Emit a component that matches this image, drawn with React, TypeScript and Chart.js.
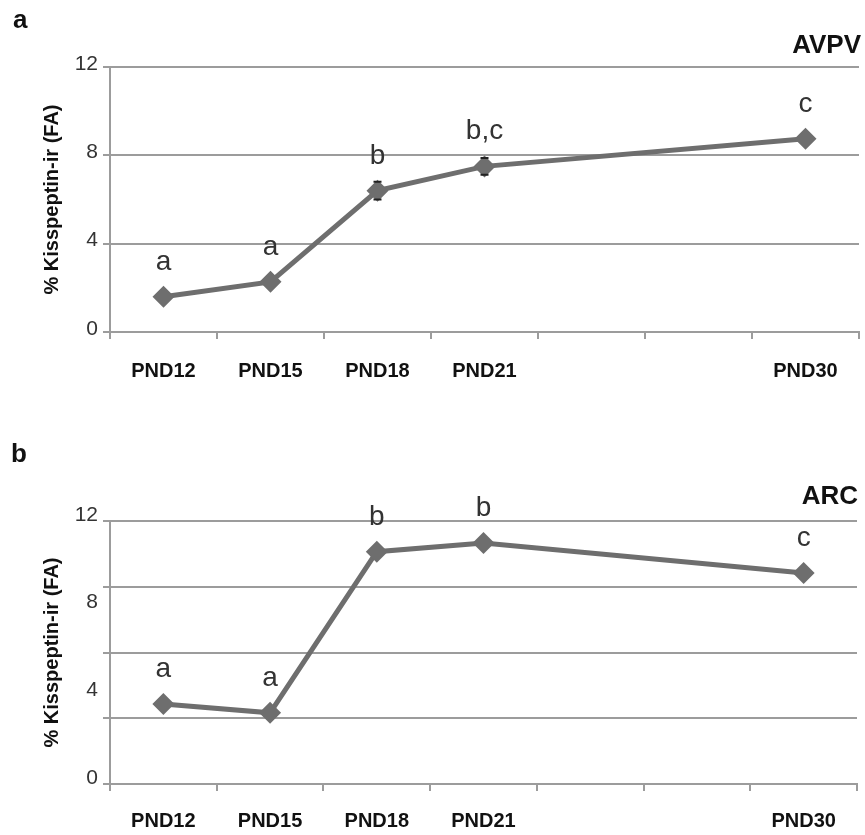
import React, { useEffect, useRef } from "react";
import { Chart, registerables } from "chart.js";

Chart.register(...registerables);

// ---- data ----
const categories = ["PND12", "PND15", "PND18", "PND21", "", "", "PND30"];
const avpvValues = [1.6, 2.27, 6.4, 7.5, null, null, 8.75];
const avpvErrors = [0, 0, 0.4, 0.38, 0, 0, 0];
const avpvLetters = ["a", "a", "b", "b,c", "", "", "c"];
const avpvYTicks = [0, 4, 8, 12];

const arcValues = [3.65, 3.25, 10.6, 11.0, null, null, 9.63];
const arcErrors = [0, 0, 0, 0, 0, 0, 0];
const arcLetters = ["a", "a", "b", "b", "", "", "c"];
const arcGridTicks = [0, 3, 6, 9, 12];
const arcLabelTicks = [0, 4, 8, 12];

const yTitle = "% Kisspeptin-ir (FA)";

// ---- styles ----
const FAMILY = '"Liberation Sans", Arial, Helvetica, sans-serif';
const GRID = "#9c9c9c";
const LINE = "#6e6e6e";

type PanelCfg = {
  values: (number | null)[];
  errors: number[];
  letters: string[];
  region: string;
  panel: string;
  width: number;
  height: number;
  padTop: number;
  padRight: number;
  xHeight: number;
  xPad: number;
  regionBaseline: number;
  regionRight: number;
  panelBaseline: number;
  panelLeft: number;
  gridTicks: number[];
  labelTicks: number[];
  labelOffset: number;
};

function annotPlugin(cfg: PanelCfg) {
  return {
    id: "annot",
    beforeDatasetsDraw(chart: any) {
      const ctx = chart.ctx;
      const meta = chart.getDatasetMeta(0);
      const ys = chart.scales.y;
      ctx.save();
      ctx.strokeStyle = "#222";
      ctx.lineWidth = 2;
      meta.data.forEach((pt: any, i: number) => {
        const v = cfg.values[i];
        const e = cfg.errors[i];
        if (v == null || !e) return;
        const t = ys.getPixelForValue(v + e);
        const b = ys.getPixelForValue(v - e);
        ctx.beginPath();
        ctx.moveTo(pt.x, t);
        ctx.lineTo(pt.x, b);
        ctx.stroke();
      });
      ctx.restore();
    },
    afterDatasetsDraw(chart: any) {
      const ctx = chart.ctx;
      const meta = chart.getDatasetMeta(0);
      const ys = chart.scales.y;
      ctx.save();
      // error caps
      ctx.strokeStyle = "#222";
      ctx.lineWidth = 2;
      meta.data.forEach((pt: any, i: number) => {
        const v = cfg.values[i];
        const e = cfg.errors[i];
        if (v == null || !e) return;
        const t = ys.getPixelForValue(v + e);
        const b = ys.getPixelForValue(v - e);
        ctx.beginPath();
        ctx.moveTo(pt.x - 4, t);
        ctx.lineTo(pt.x + 4, t);
        ctx.moveTo(pt.x - 4, b);
        ctx.lineTo(pt.x + 4, b);
        ctx.stroke();
      });
      // significance letters
      ctx.font = `28px ${FAMILY}`;
      ctx.fillStyle = "#333";
      ctx.textAlign = "center";
      ctx.textBaseline = "alphabetic";
      meta.data.forEach((pt: any, i: number) => {
        const v = cfg.values[i];
        const l = cfg.letters[i];
        if (v == null || !l) return;
        ctx.fillText(l, pt.x, pt.y - 27);
      });
      // region title
      ctx.font = `bold 26px ${FAMILY}`;
      ctx.fillStyle = "#111";
      ctx.textAlign = "right";
      ctx.fillText(cfg.region, cfg.regionRight, cfg.regionBaseline);
      // panel letter
      ctx.textAlign = "left";
      ctx.fillText(cfg.panel, cfg.panelLeft, cfg.panelBaseline);
      ctx.restore();
    },
  };
}

function buildConfig(cfg: PanelCfg): any {
  const allTicks = Array.from(new Set([...cfg.gridTicks, ...cfg.labelTicks])).sort((a, b) => a - b);
  return {
    type: "line",
    data: {
      labels: categories,
      datasets: [
        {
          data: cfg.values,
          borderColor: LINE,
          backgroundColor: LINE,
          borderWidth: 5,
          pointStyle: "rectRot",
          pointRadius: 11,
          pointBackgroundColor: LINE,
          pointBorderColor: LINE,
          pointBorderWidth: 0,
          spanGaps: true,
          tension: 0,
        },
      ],
    },
    options: {
      responsive: false,
      animation: false,
      events: [],
      layout: { padding: { left: 30, right: cfg.padRight, top: cfg.padTop, bottom: 0 } },
      plugins: { legend: { display: false }, tooltip: { enabled: false }, title: { display: false } },
      scales: {
        x: {
          type: "category",
          offset: true,
          ticks: {
            autoSkip: false,
            maxRotation: 0,
            minRotation: 0,
            font: { size: 20, weight: "bold", family: FAMILY },
            color: "#111",
            padding: cfg.xPad,
          },
          grid: { offset: true, drawOnChartArea: false, drawTicks: true, tickLength: 7, color: GRID, lineWidth: 2 },
          border: { color: GRID, width: 2 },
          afterFit(s: any) {
            s.height = cfg.xHeight;
            s.paddingLeft = 0;
            s.paddingRight = 0;
          },
        },
        y: {
          min: 0,
          max: 12,
          afterBuildTicks(s: any) {
            s.ticks = allTicks.map((v) => ({ value: v }));
          },
          ticks: {
            font: { size: 21, family: FAMILY },
            color: "#333",
            padding: 5,
            labelOffset: cfg.labelOffset,
            callback: (v: any) => (cfg.labelTicks.includes(Number(v)) ? String(v) : ""),
          },
          grid: {
            color: (c: any) => (c.tick && cfg.gridTicks.includes(c.tick.value) ? GRID : "rgba(0,0,0,0)"),
            lineWidth: 2,
            tickLength: 7,
            drawTicks: true,
          },
          border: { color: GRID, width: 2 },
          title: {
            display: true,
            text: yTitle,
            font: { size: 20, weight: "bold", family: FAMILY },
            color: "#111",
            padding: { top: 10, bottom: 0 },
          },
          afterFit(s: any) {
            s.width = 80;
            s.paddingTop = 0;
            s.paddingBottom = 0;
          },
        },
      },
    },
    plugins: [annotPlugin(cfg)],
  };
}

// The line's point radius forces an 11px minimum chart padding, so the
// canvases are a few pixels wider than the page and clipped by their wrapper.
const panelA: PanelCfg = {
  values: avpvValues,
  errors: avpvErrors,
  letters: avpvLetters,
  region: "AVPV",
  panel: "a",
  width: 870,
  height: 378,
  padTop: 67,
  padRight: 11,
  xHeight: 46,
  xPad: 20,
  regionBaseline: 53,
  regionRight: 861,
  panelBaseline: 28,
  panelLeft: 13,
  gridTicks: avpvYTicks,
  labelTicks: avpvYTicks,
  labelOffset: -3,
};

const panelB: PanelCfg = {
  values: arcValues,
  errors: arcErrors,
  letters: arcLetters,
  region: "ARC",
  panel: "b",
  width: 868,
  height: 455,
  padTop: 141,
  padRight: 11,
  xHeight: 51,
  xPad: 18,
  regionBaseline: 124,
  regionRight: 858,
  panelBaseline: 82,
  panelLeft: 11,
  gridTicks: arcGridTicks,
  labelTicks: arcLabelTicks,
  labelOffset: -6,
};

function Panel({ cfg, top }: { cfg: PanelCfg; top: number }) {
  const ref = useRef<HTMLCanvasElement>(null);
  useEffect(() => {
    const chart = new Chart(ref.current as HTMLCanvasElement, buildConfig(cfg));
    return () => chart.destroy();
  }, [cfg]);
  return (
    <div style={{ position: "absolute", left: 0, top, width: 865, height: cfg.height, overflow: "hidden" }}>
      <canvas ref={ref} width={cfg.width} height={cfg.height} style={{ display: "block" }} />
    </div>
  );
}

export default function App() {
  return (
    <div
      style={{
        position: "absolute",
        left: 0,
        top: 0,
        width: 865,
        height: 835,
        overflow: "hidden",
        background: "#fff",
      }}
    >
      <Panel cfg={panelA} top={0} />
      <Panel cfg={panelB} top={380} />
    </div>
  );
}
